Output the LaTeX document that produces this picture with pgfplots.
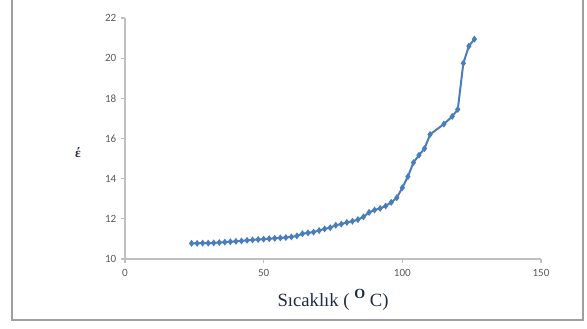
\documentclass[border=0pt]{standalone}
\usepackage{pgfplots}
\pgfplotsset{compat=1.18}
\usepackage{fontspec}
\setmainfont{Carlito}
\newfontfamily\serifx{Liberation Serif}
\definecolor{ser}{HTML}{4A7EBB}
\definecolor{axg}{HTML}{BFBFBF}
\definecolor{tickg}{HTML}{595959}
\definecolor{lab}{HTML}{1F2A40}
\begin{document}
\begin{tikzpicture}
\useasboundingbox (-93.75pt,-52.5pt) rectangle (346.5pt,194.25pt);
\draw[gray!75, line width=0.9pt] (-84.75pt,200pt) -- (-84.75pt,-45.75pt) -- (343.5pt,-45.75pt) -- (343.5pt,200pt);
\begin{axis}[
  at={(0,0)}, anchor=south west,
  scale only axis, width=312pt, height=180.75pt,
  xmin=0, xmax=150, ymin=10, ymax=22,
  xtick={0,50,100,150}, ytick={10,12,14,16,18,20,22},
  axis lines=left,
  axis line style={axg, line width=0.8pt, -},
  tick style={axg, line width=0.8pt},
  tick align=outside, major tick length=3pt,
  ticklabel style={font=\fontsize{8.3}{10}\selectfont, text=tickg},
  /pgf/number format/assume math mode=true,
  xticklabel style={yshift=-1pt},
  clip=false,
]
\addplot[color=ser, line width=1.5pt, mark=diamond*, mark size=1.4pt, mark options={solid, fill=ser}] coordinates {
(24,10.78) (26,10.78) (28,10.79) (30,10.79) (32,10.80) (34,10.82) (36,10.84) (38,10.86)
(40,10.88) (42,10.90) (44,10.93) (46,10.95) (48,10.97) (50,10.99) (52,11.01) (54,11.03)
(56,11.05) (58,11.07) (60,11.10) (62,11.15) (64,11.26) (66,11.30) (68,11.34) (70,11.42)
(72,11.50) (74,11.56) (76,11.68) (78,11.74) (80,11.82) (82,11.88) (84,11.96) (86,12.10)
(88,12.32) (90,12.44) (92,12.52) (94,12.64) (96,12.82) (98,13.05) (100,13.55) (102,14.10)
(104,14.80) (106,15.17) (108,15.50) (110,16.20) (115,16.72) (118,17.10) (120,17.45)
(122,19.75) (124,20.60) (126,20.95)
};
\end{axis}
\node[font=\serifx\fontsize{10}{12}\selectfont\bfseries, text=lab] at (-35.25pt,79.5pt) {έ};
\node[font=\serifx\fontsize{14}{16}\selectfont, text=lab] at (156pt,-30.75pt) {Sıcaklık ( \raisebox{0.4em}{\fontsize{10.5}{11}\selectfont\bfseries O} C)};
\end{tikzpicture}
\end{document}
